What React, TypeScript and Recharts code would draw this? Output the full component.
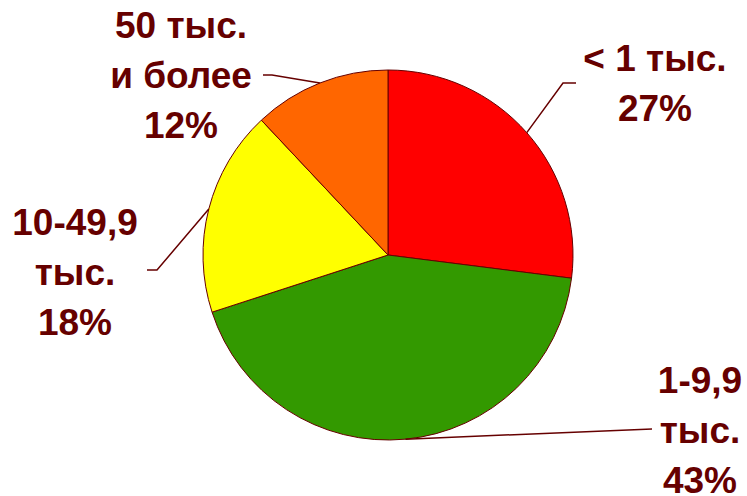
import { PieChart, Pie, Cell } from 'recharts'

const categories = ['< 1 тыс.', '1-9,9 тыс.', '10-49,9 тыс.', '50 тыс. и более']
const labelLines = [['< 1 тыс.'], ['1-9,9', 'тыс.'], ['10-49,9', 'тыс.'], ['50 тыс.', 'и более']]
const shares = [27, 43, 18, 12]
const colors = ['#ff0000', '#339900', '#ffff00', '#ff6600']

const TEXT = '#660000'

// label placement relative to the pie centre: leader elbow, leader end, text centre / first baseline
const labelLayout = [
  { elbow: [175, -172], end: [188, -172], tx: 267, ty: -184 },
  { elbow: null, end: [264, 174], tx: 312, ty: 138 },
  { elbow: [-231, 15], end: [-241, 15], tx: -313, ty: -20 },
  { elbow: [-116, -180], end: [-125, -180], tx: -207, ty: -217 },
]

const data = categories.map((name, i) => ({ name, value: shares[i] }))

const RAD = Math.PI / 180

function renderLabel(props: any) {
  const { cx, cy, midAngle, outerRadius, index, percent } = props
  const l = labelLayout[index]
  const sx = cx + outerRadius * Math.cos(-midAngle * RAD)
  const sy = cy + outerRadius * Math.sin(-midAngle * RAD)
  const pts = [[sx, sy]]
  if (l.elbow) pts.push([cx + l.elbow[0], cy + l.elbow[1]])
  pts.push([cx + l.end[0], cy + l.end[1]])
  const lines = [...labelLines[index], `${Math.round(percent * 100)}%`]
  return (
    <g key={`lbl-${index}`}>
      <polyline
        points={pts.map((p) => p.join(',')).join(' ')}
        fill="none"
        stroke={TEXT}
        strokeWidth={1.5}
      />
      <text
        x={cx + l.tx}
        y={cy + l.ty}
        fill={TEXT}
        textAnchor="middle"
        style={{ fontFamily: '"Liberation Sans", Arial, sans-serif', fontWeight: 700, fontSize: 37 }}
      >
        {lines.map((t, j) => (
          <tspan key={j} x={cx + l.tx} dy={j === 0 ? 0 : 50}>
            {t}
          </tspan>
        ))}
      </text>
    </g>
  )
}

export default function App() {
  return (
    <div style={{ position: 'fixed', top: 0, left: 0, width: 747, height: 496, background: '#fff' }}>
      <PieChart width={747} height={496} margin={{ top: 0, right: 0, bottom: 0, left: 0 }}>
        <Pie
          data={data}
          dataKey="value"
          nameKey="name"
          cx={388}
          cy={255}
          outerRadius={185}
          startAngle={90}
          endAngle={-270}
          stroke="#660000"
          strokeWidth={1}
          label={renderLabel}
          labelLine={false}
          isAnimationActive={false}
        >
          {data.map((d, i) => (
            <Cell key={d.name} fill={colors[i]} />
          ))}
        </Pie>
      </PieChart>
    </div>
  )
}
